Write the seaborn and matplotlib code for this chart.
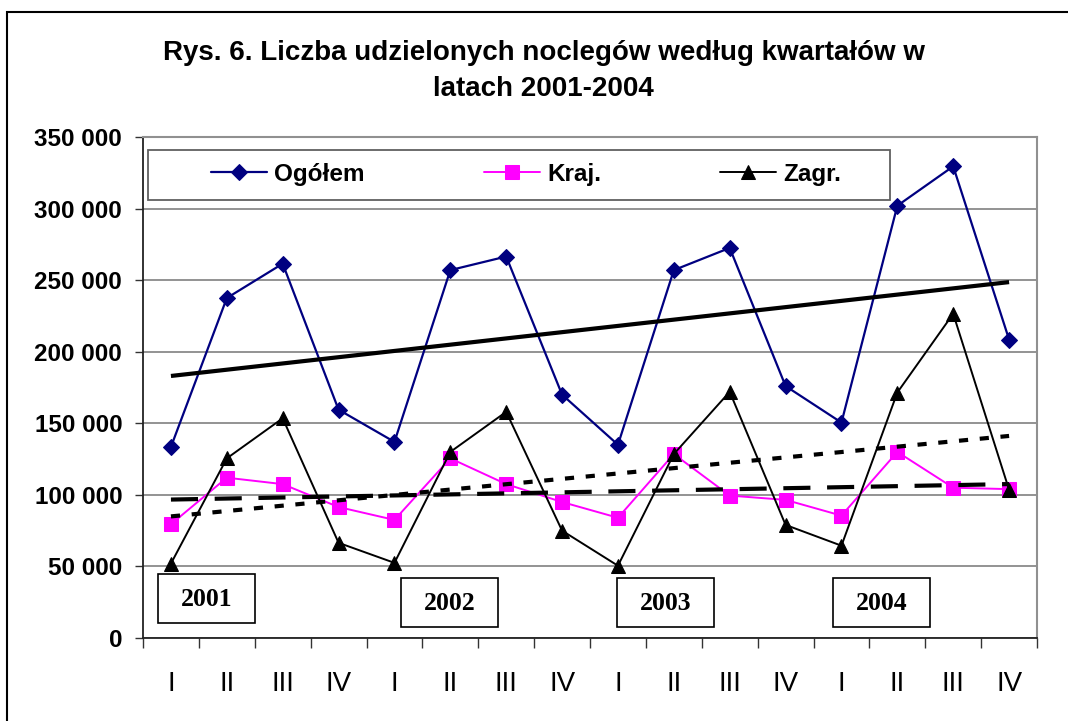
import numpy as np
import pandas as pd
import seaborn as sns
import matplotlib
matplotlib.use('Agg')
import matplotlib.pyplot as plt
from matplotlib.patches import Rectangle
from matplotlib.ticker import FuncFormatter, FixedLocator

# dane (liczba noclegów, kwartały 2001-2004)
kwartaly = ['I', 'II', 'III', 'IV'] * 4
lata = ['2001', '2002', '2003', '2004']
ogolem = [133500, 237500, 261500, 159500, 137000, 257000, 266500, 170000,
          135000, 257000, 272500, 176000, 150500, 302000, 329500, 208500]
kraj = [79500, 112000, 107500, 91500, 82500, 125500, 107500, 95000,
        84000, 128500, 99500, 96500, 85500, 130000, 105000, 104000]
zagr = [52000, 125500, 153500, 66500, 52500, 130000, 158000, 75000,
        50500, 128500, 172000, 79000, 64500, 171500, 226500, 103500]

poz = np.arange(len(kwartaly))

sns.set_style('white')
plt.rcParams['font.family'] = ['Liberation Sans', 'DejaVu Sans']
plt.rcParams['text.color'] = 'black'
plt.rcParams['xtick.color'] = 'black'
plt.rcParams['ytick.color'] = 'black'

fig = plt.figure(figsize=(10.68, 7.21), dpi=100)
ax = fig.add_axes([0.1339, 0.1151, 0.8371, 0.6949])

# serie
sns.lineplot(x=poz, y=ogolem, ax=ax, color='#000080', lw=1.6, marker='D',
             markersize=8.5, markeredgecolor='#000080', label='Ogółem')
sns.lineplot(x=poz, y=kraj, ax=ax, color='#FF00FF', lw=1.4, marker='s',
             markersize=10, markeredgecolor='#FF00FF', label='Kraj.')
sns.lineplot(x=poz, y=zagr, ax=ax, color='black', lw=1.4, marker='^',
             markersize=10.5, markeredgecolor='black', label='Zagr.')

# linie trendu (liniowe)
sns.regplot(x=poz, y=ogolem, ax=ax, scatter=False, ci=None, truncate=True,
            line_kws=dict(color='black', lw=3, solid_capstyle='butt'))
sns.regplot(x=poz, y=kraj, ax=ax, scatter=False, ci=None, truncate=True,
            line_kws=dict(color='black', lw=3, dashes=(6.5, 4)))
sns.regplot(x=poz, y=zagr, ax=ax, scatter=False, ci=None, truncate=True,
            line_kws=dict(color='black', lw=3, dashes=(2.2, 2.8)))

ax.set_xlim(-0.5, 15.5)
ax.set_ylim(0, 350000)
ax.set_xlabel('')
ax.set_ylabel('')

ax.set_yticks(np.arange(0, 350001, 50000))
ax.yaxis.set_major_formatter(FuncFormatter(lambda v, p: f'{int(v):,}'.replace(',', ' ')))
for t in ax.get_yticklabels():
    t.set_fontweight('bold')
ax.tick_params(axis='y', direction='out', length=6, width=1, color='#333333',
               labelcolor='black', labelsize=17.5, pad=9, left=True)

ax.xaxis.set_major_locator(FixedLocator(np.arange(-0.5, 16, 1)))
ax.xaxis.set_major_formatter(FuncFormatter(lambda v, p: ''))
ax.xaxis.set_minor_locator(FixedLocator(poz))
ax.set_xticklabels(kwartaly, minor=True)
ax.tick_params(axis='x', which='major', direction='out', length=7.5, width=1,
               color='#333333', bottom=True)
ax.tick_params(axis='x', which='minor', length=0, labelsize=20, pad=24,
               labelcolor='black')

ax.yaxis.grid(True, color='#808080', lw=1.2)
ax.set_axisbelow(True)
for s in ['left', 'bottom']:
    ax.spines[s].set_color('#222222')
    ax.spines[s].set_linewidth(1.3)
for s in ['top', 'right']:
    ax.spines[s].set_color('#909090')
    ax.spines[s].set_linewidth(1.5)

# legenda
ax.add_patch(Rectangle((0.0056, 0.8743), 0.83, 0.0997, transform=ax.transAxes,
                       fill=True, fc='white', ec='#606060', lw=1.3, zorder=5))
handles, labels = ax.get_legend_handles_labels()
leg = ax.legend(handles[:3], labels[:3], loc='center left',
                bbox_to_anchor=(0.076, 0.926), ncol=3, frameon=False,
                borderpad=0, borderaxespad=0, handlelength=2.3,
                handletextpad=0.3, columnspacing=4.9,
                prop=dict(size=17.5, weight='bold'), labelcolor='black')
leg.set_zorder(6)

# ramki z latami
ramki_x = [0.0168, 0.2886, 0.5302, 0.7718]
ramki_y = [0.0299, 0.0220, 0.0220, 0.0220]
for rok, x0, y0 in zip(lata, ramki_x, ramki_y):
    ax.add_patch(Rectangle((x0, y0), 0.1085, 0.098, transform=ax.transAxes,
                           fc='white', ec='black', lw=1.2, zorder=7))
    ax.text(x0 + 0.0542, y0 + 0.047, rok, transform=ax.transAxes,
            ha='center', va='center', fontsize=18.5, fontweight='bold',
            family=['Liberation Serif', 'DejaVu Serif'], color='black', zorder=8)

fig.text(0.509, 0.902, 'Rys. 6. Liczba udzielonych noclegów według kwartałów w\nlatach 2001-2004',
         ha='center', va='center', fontsize=20, fontweight='bold', linespacing=1.5,
         color='black')

# ramka całego wykresu
fig.patches.append(Rectangle((7 / 1068, -0.05), 1.2, 1 - 12 / 721 + 0.05,
                             transform=fig.transFigure, fill=False,
                             ec='black', lw=1.5))

fig.savefig('out.png', dpi=100)
